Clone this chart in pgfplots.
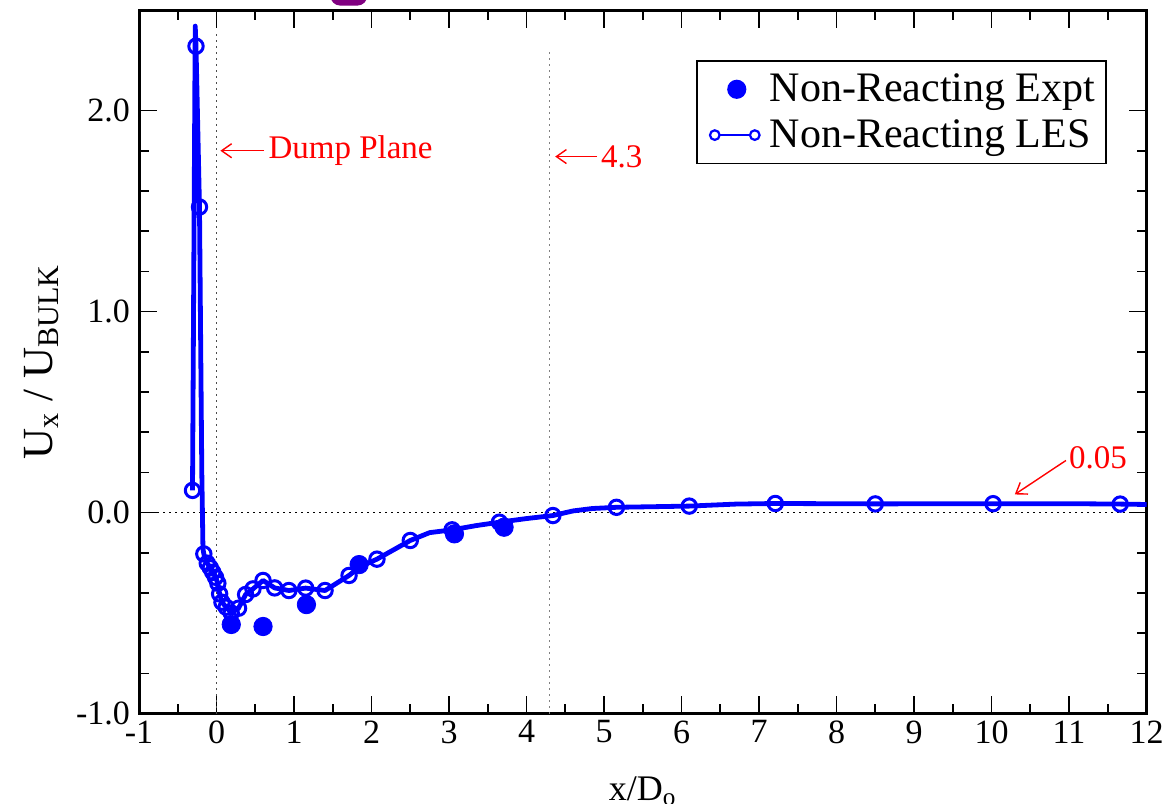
\documentclass[border=0pt]{standalone}
\usepackage{fontspec}
\setmainfont{Liberation Serif}
\usepackage{pgfplots}
\pgfplotsset{compat=1.18}
\usetikzlibrary{arrows.meta}
\definecolor{blob}{RGB}{128,0,128}
\begin{document}
\begin{tikzpicture}
\begin{axis}[
  scale only axis,
  width=503.75pt, height=351.75pt,
  xmin=-1, xmax=12, ymin=-1, ymax=2.5,
  xtick={-1,0,...,12},
  ytick={-1,0,1,2},
  minor x tick num=1,
  minor y tick num=4,
  tick align=inside,
  major tick length=9pt,
  minor tick length=5pt,
  every tick/.style={black, line width=0.8pt},
  axis line style={line width=1.5pt},
  clip=false,
  /pgf/number format/assume math mode=true,
  yticklabel style={/pgf/number format/fixed, /pgf/number format/fixed zerofill, /pgf/number format/precision=1, font=\fontsize{17}{17}\selectfont, xshift=-1pt},
  xticklabel style={font=\fontsize{17}{17}\selectfont},
  xlabel={x/D\textsubscript{o}},
  ylabel={U\textsubscript{x} / U\textsubscript{BULK}},
  xlabel style={font=\fontsize{18}{18}\selectfont, at={(axis description cs:0.5,-0.123)}, anchor=base},
  ylabel style={font=\fontsize{21.5}{21.5}\selectfont, at={(axis description cs:-0.086,0.5)}, anchor=base},
  legend cell align=left,
  legend style={at={(axis cs:11.49,2.251)}, anchor=north east, draw=black, line width=0.8pt,
    font=\fontsize{21}{21}\selectfont, inner xsep=4pt, inner ysep=5pt, row sep=4.5pt,
    nodes={inner sep=1.5pt}},
]
% reference lines
\addplot[forget plot, black, line width=0.6pt, dash pattern=on 1pt off 2pt] coordinates {(-1,0) (12,0)};
\addplot[forget plot, black!70, line width=0.6pt, dash pattern=on 1pt off 2pt] coordinates {(0,-1) (0,2.4)};
\addplot[forget plot, black!50, line width=0.6pt, dash pattern=on 1pt off 2pt] coordinates {(4.3,-1) (4.3,2.31)};
% LES line
\addplot[forget plot, blue, line width=2.4pt, line join=round] coordinates {
(-0.31,0.11) (-0.275,2.42) (-0.265,2.32) (-0.22,1.52) (-0.19,0.2) (-0.175,-0.18)
(-0.164,-0.206) (-0.12,-0.252) (-0.08,-0.275) (-0.048,-0.297) (-0.013,-0.322)
(0.017,-0.352) (0.04,-0.405) (0.07,-0.446) (0.125,-0.471) (0.19,-0.50)
(0.284,-0.476) (0.375,-0.408) (0.47,-0.38) (0.60,-0.338) (0.75,-0.375)
(0.934,-0.388) (1.15,-0.376) (1.40,-0.388) (1.71,-0.313) (1.85,-0.27)
(2.07,-0.232) (2.50,-0.139) (2.75,-0.10) (3.04,-0.086) (3.35,-0.065)
(3.65,-0.048) (4.0,-0.03) (4.34,-0.015) (4.6,0.008) (4.85,0.02) (5.16,0.026)
(6.10,0.032) (6.7,0.042) (7.21,0.045) (8.5,0.043) (10.02,0.044) (11.0,0.044)
(11.66,0.042) (12.0,0.04)};
% Experiment
\addplot[only marks, mark=*, mark size=4.6pt, blue, mark options={fill=blue, draw=blue},
  legend image code/.code={\path[draw=none, fill=none] (-5pt,0pt) -- (26pt,0pt); \fill[blue, draw=none] (11pt,0pt) circle (4.8pt);}]
coordinates {(0.19,-0.557) (0.6,-0.567) (1.16,-0.458) (1.84,-0.259) (3.07,-0.106) (3.71,-0.073)};
\addlegendentry{Non-Reacting Expt}
% LES markers
\addplot[only marks, mark=o, mark size=3.6pt, blue, mark options={fill=white, draw=blue, line width=1.5pt},
  legend image code/.code={\path[draw=none, fill=none] (-5pt,0pt) -- (26pt,0pt);
    \draw[blue, line width=1.1pt] (0pt,0pt) -- (20pt,0pt);
    \draw[blue, fill=white, line width=1.1pt] (0pt,0pt) circle (2.4pt) (20pt,0pt) circle (2.4pt);}]
coordinates {
(-0.31,0.11) (-0.265,2.32) (-0.22,1.52) (-0.164,-0.206) (-0.12,-0.252) (-0.08,-0.275)
(-0.048,-0.297) (-0.013,-0.322) (0.017,-0.352) (0.04,-0.405) (0.07,-0.446)
(0.125,-0.471) (0.19,-0.5) (0.284,-0.476) (0.375,-0.408) (0.47,-0.38) (0.6,-0.338)
(0.75,-0.375) (0.934,-0.388) (1.15,-0.376) (1.40,-0.388) (1.71,-0.313) (2.07,-0.232)
(2.50,-0.139) (3.04,-0.086) (3.65,-0.048) (4.34,-0.015) (5.16,0.026) (6.10,0.032)
(7.21,0.045) (8.5,0.043) (10.02,0.044) (11.66,0.042)};
\addlegendentry{Non-Reacting LES}
% annotations
\draw[red, line width=0.7pt, -{Straight Barb[length=5pt,width=7pt]}] (axis cs:0.615,1.80) -- (axis cs:0.05,1.80);
\node[red, anchor=west, inner sep=1pt, font=\fontsize{16.5}{16.5}\selectfont] at (axis cs:0.64,1.80) {Dump Plane};
\draw[red, line width=0.7pt, -{Straight Barb[length=5pt,width=7pt]}] (axis cs:4.91,1.771) -- (axis cs:4.37,1.771);
\node[red, anchor=west, inner sep=1pt, font=\fontsize{16.5}{16.5}\selectfont] at (axis cs:4.93,1.771) {4.3};
\draw[red, line width=0.7pt, -{Straight Barb[length=5pt,width=7pt]}] (axis cs:10.96,0.259) -- (axis cs:10.30,0.09);
\node[red, anchor=west, inner sep=1pt, font=\fontsize{16.5}{16.5}\selectfont] at (axis cs:10.97,0.271) {0.05};
% clipped purple shape at the top edge
\fill[blob, rounded corners=5pt] (axis cs:1.468,2.522) rectangle (axis cs:1.946,2.75);
\coordinate (bbsw) at (axis cs:-2.794,-1.450);
\coordinate (bbne) at (axis cs:12.29,2.550);
\end{axis}
\pgfresetboundingbox
\useasboundingbox (bbsw) rectangle (bbne);
\end{tikzpicture}
\end{document}
